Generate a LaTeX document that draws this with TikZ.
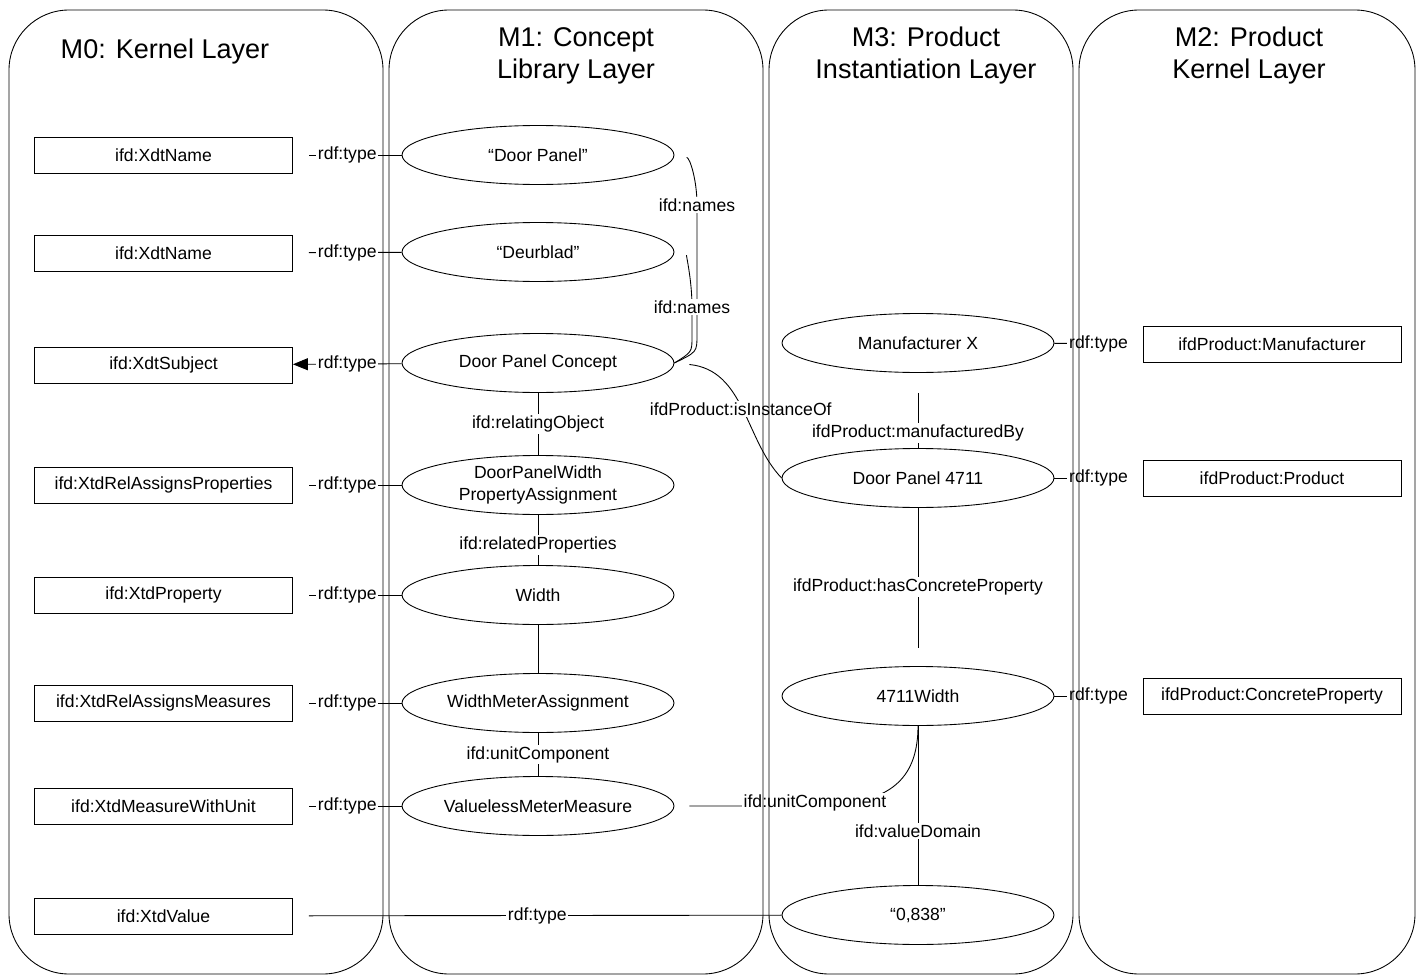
\documentclass[tikz,border=0pt]{standalone}
\usepackage{fontspec}
\setmainfont{Liberation Sans}
\usetikzlibrary{arrows.meta,shapes.geometric}

\begin{document}
\begin{tikzpicture}[x=0.02cm,y=-0.02cm,line width=0.5pt,
    font=\fontsize{10}{13}\selectfont,
    kbox/.style={draw,minimum width=5.16cm,minimum height=0.72cm,inner sep=0pt},
    obj/.style={draw,ellipse,minimum width=5.44cm,minimum height=1.18cm,inner sep=0pt,align=center},
    lbl/.style={fill=white,inner sep=1pt},
    layer/.style={draw,rounded corners=1.2cm},
    ttl/.style={align=center,font=\fontsize{15.4}{18.2}\selectfont}]
  \useasboundingbox (0,0) rectangle (1421,977);

  % layer titles
  \node[ttl] (t0) at (165,52) {M0: Kernel Layer};
  \node[ttl] (t1) at (576,55.5) {M1: Concept\\Library Layer};
  \node[ttl] (t3) at (926,55.5) {M3: Product\\Instantiation Layer};
  \node[ttl] (t2) at (1249,55.5) {M2: Product\\Kernel Layer};

  % M0
  \node[kbox] (xname1) at (163.5,155) {ifd:XdtName};
  \node[kbox] (xname2) at (163.5,253) {ifd:XdtName};
  \node[kbox] (xsubj) at (163.5,365) {ifd:XdtSubject};
  \node[kbox] (xrap) at (163.5,485) {ifd:XtdRelAssignsProperties};
  \node[kbox] (xprop) at (163.5,595) {ifd:XtdProperty};
  \node[kbox] (xram) at (163.5,703) {ifd:XtdRelAssignsMeasures};
  \node[kbox] (xmwu) at (163.5,806) {ifd:XtdMeasureWithUnit};
  \node[kbox] (xval) at (163.5,916) {ifd:XtdValue};

  % M1
  \node[obj] (dpanel) at (538,155) {“Door Panel”};
  \node[obj] (deurb) at (538,252) {“Deurblad”};
  \node[obj] (concept) at (538,363) {Door Panel Concept};
  \node[obj] (pa) at (538,485) {DoorPanelWidth\\PropertyAssignment};
  \node[obj] (width) at (538,595) {Width};
  \node[obj] (wma) at (538,703) {WidthMeterAssignment};
  \node[obj] (vmm) at (538,806) {ValuelessMeterMeasure};

  % M3
  \node[obj] (manx) at (918,343) {Manufacturer X};
  \node[obj] (dp4711) at (918,478) {Door Panel 4711};
  \node[obj] (w4711) at (918,696) {4711Width};
  \node[obj] (v0838) at (918,915) {“0,838”};

  % M2
  \node[kbox] (pman) at (1272,344) {ifdProduct:Manufacturer};
  \node[kbox] (pprod) at (1272,478) {ifdProduct:Product};
  \node[kbox] (pcp) at (1272,696) {ifdProduct:ConcreteProperty};

  % rdf:type links
  \foreach \a/\b in {dpanel/xname1,deurb/xname2,pa/xrap,width/xprop,wma/xram,vmm/xmwu}
    \draw[shorten >=0.32cm] (\a) -- (\b) node[lbl,midway] {rdf:type};
  \draw[-{Triangle[length=0.3cm,width=0.24cm]}] (concept) -- (xsubj) node[lbl,midway] {rdf:type};
  \foreach \a/\b in {manx/pman,dp4711/pprod,w4711/pcp}
    \draw[shorten >=0.28cm] (\a) -- (\b) node[lbl,midway] {rdf:type};
  \draw[shorten <=0.32cm] (xval) -- (v0838) node[lbl,midway] {rdf:type};

  % M1 relations
  \draw[shorten <=0.25cm] (dpanel.east) .. controls (690,158) and (697,180) .. (697,205) node[lbl] {ifd:names}
    -- (697,335) .. controls (697,352) .. (concept.east);
  \draw[shorten <=0.25cm] (deurb.east) .. controls (686,255) and (692,280) .. (692,307) node[lbl] {ifd:names}
    -- (692,337) .. controls (692,352) .. (concept.east);
  \draw (concept) -- (pa) node[lbl,midway] {ifd:relatingObject};
  \draw (pa) -- (width) node[lbl,pos=0.6] {ifd:relatedProperties};
  \draw (width) -- (wma);
  \draw (wma) -- (vmm) node[lbl,midway] {ifd:unitComponent};
  \draw[shorten <=0.3cm] (concept.east) .. controls (745,370) and (745,440) .. (dp4711.west)
    node[lbl,midway] {ifdProduct:isInstanceOf};

  % M3 relations
  \draw[shorten <=0.4cm] (manx) -- (dp4711) node[lbl,pos=0.8] {ifdProduct:manufacturedBy};
  \draw[shorten >=0.36cm] (dp4711) -- (w4711) node[lbl,midway] {ifdProduct:hasConcreteProperty};
  \draw (w4711) -- (v0838) node[lbl,pos=0.66] {ifd:valueDomain};
  \draw[shorten <=0.3cm] (vmm) -- (815,806) node[lbl,yshift=0.06cm] {ifd:unitComponent}
    -- (800,806) .. controls (870,806) and (918,795) .. (w4711.south);

  % layers
  \draw[layer] (9,10) rectangle (383,974);
  \draw[layer] (389,10) rectangle (763,974);
  \draw[layer] (769,10) rectangle (1073,974);
  \draw[layer] (1079,10) rectangle (1415,974);
\end{tikzpicture}
\end{document}
